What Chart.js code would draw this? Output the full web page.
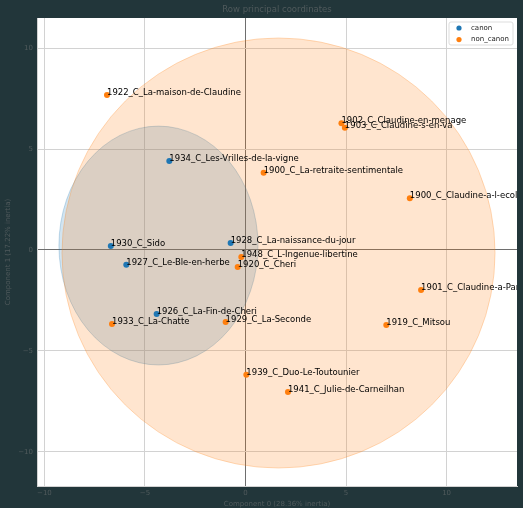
<!DOCTYPE html>
<html>
<head>
<meta charset="utf-8">
<script src="https://cdn.jsdelivr.net/npm/chart.js@4.4.1/dist/chart.umd.min.js"></script>
<style>
    html, body { margin: 0; padding: 0; background: #22363a; }
    #wrap { width: 523px; height: 508px; }
</style>
</head>
<body>
<div id="wrap"><canvas id="chart" width="523" height="508"></canvas></div>
<script>
// Row principal coordinates
const canonLabels = ['1934_C_Les-Vrilles-de-la-vigne', '1930_C_Sido', '1927_C_Le-Ble-en-herbe',
    '1928_C_La-naissance-du-jour', '1926_C_La-Fin-de-Cheri'];
const canonX = [-3.79, -6.70, -5.93, -0.74, -4.42];
const canonY = [4.41, 0.20, -0.73, 0.35, -3.17];

const nonCanonLabels = ['1922_C_La-maison-de-Claudine', '1902_C_Claudine-en-menage', '1903_C_Claudine-s-en-va',
    '1900_C_La-retraite-sentimentale', '1900_C_Claudine-a-l-ecole', '1948_C_L-Ingenue-libertine',
    '1920_C_Cheri', '1901_C_Claudine-a-Paris', '1933_C_La-Chatte', '1929_C_La-Seconde',
    '1919_C_Mitsou', '1939_C_Duo-Le-Toutounier', '1941_C_Julie-de-Carneilhan'];
const nonCanonX = [-6.89, 4.77, 4.94, 0.90, 8.17, -0.21, -0.39, 8.73, -6.64, -0.99, 7.00, 0.04, 2.11];
const nonCanonY = [7.68, 6.28, 6.06, 3.83, 2.56, -0.35, -0.84, -1.98, -3.67, -3.57, -3.72, -6.18, -7.04];

// group ellipses: canon, non_canon
const ellipseCx = [-4.33, 1.64];
const ellipseCy = [0.22, -0.15];
const ellipseRx = [4.95, 10.77];
const ellipseRy = [5.92, 10.66];

const xTicks = [-10, -5, 0, 5, 10];
const yTicks = [-10, -5, 0, 5, 10];

const titleText = 'Row principal coordinates';
const xTitle = 'Component 0 (28.36% inertia)';
const yTitle = 'Component 1 (17.22% inertia)';

const blue = [31, 119, 180];
const orange = [255, 127, 14];
const textColor = '#505a5c';
const labelFont = '8.5px "DejaVu Sans"';

function rgba(c, a) {
    return 'rgba(' + c[0] + ',' + c[1] + ',' + c[2] + ',' + a + ')';
}

function toPoints(xs, ys) {
    return xs.map((x, i) => ({ x: x, y: ys[i] }));
}

function fmtTick(v) {
    return v < 0 ? '\u2212' + Math.abs(v) : String(v);
}

const pcaPlugin = {
    id: 'pca',
    beforeDraw(chart) {
        const ctx = chart.ctx;
        const a = chart.chartArea;
        ctx.save();
        ctx.fillStyle = '#22363a';
        ctx.fillRect(0, 0, chart.width, chart.height);
        ctx.fillStyle = '#ffffff';
        ctx.fillRect(a.left, a.top, a.right - a.left, a.bottom - a.top);
        ctx.restore();
    },
    beforeDatasetsDraw(chart) {
        const ctx = chart.ctx;
        const a = chart.chartArea;
        const xs = chart.scales.x, ys = chart.scales.y;
        const colors = [blue, orange];
        ctx.save();
        ctx.beginPath();
        ctx.rect(a.left, a.top, a.right - a.left, a.bottom - a.top);
        ctx.clip();
        for (let i = 0; i < ellipseCx.length; i++) {
            const cx = xs.getPixelForValue(ellipseCx[i]);
            const cy = ys.getPixelForValue(ellipseCy[i]);
            const rx = Math.abs(xs.getPixelForValue(ellipseCx[i] + ellipseRx[i]) - cx);
            const ry = Math.abs(ys.getPixelForValue(ellipseCy[i] + ellipseRy[i]) - cy);
            ctx.beginPath();
            ctx.ellipse(cx, cy, rx, ry, 0, 0, Math.PI * 2);
            ctx.fillStyle = rgba(colors[i], 0.2);
            ctx.fill();
            ctx.strokeStyle = rgba(colors[i], 0.25);
            ctx.lineWidth = 1;
            ctx.stroke();
        }
        ctx.restore();
    },
    afterDatasetsDraw(chart) {
        const ctx = chart.ctx;
        const a = chart.chartArea;
        const xs = chart.scales.x, ys = chart.scales.y;
        ctx.save();
        ctx.beginPath();
        ctx.rect(a.left, a.top, a.right - a.left, a.bottom - a.top);
        ctx.clip();
        ctx.font = labelFont;
        ctx.fillStyle = '#000000';
        ctx.textAlign = 'left';
        ctx.textBaseline = 'alphabetic';
        const groups = [[canonLabels, canonX, canonY], [nonCanonLabels, nonCanonX, nonCanonY]];
        groups.forEach(g => {
            g[0].forEach((label, i) => {
                ctx.fillText(label, xs.getPixelForValue(g[1][i]), ys.getPixelForValue(g[2][i]));
            });
        });
        ctx.restore();
    },
    afterDraw(chart) {
        const ctx = chart.ctx;
        const a = chart.chartArea;
        ctx.save();
        // title
        ctx.font = '8.5px "DejaVu Sans"';
        ctx.fillStyle = textColor;
        ctx.textAlign = 'center';
        ctx.textBaseline = 'middle';
        ctx.fillText(titleText, (a.left + a.right) / 2, 10);

        // legend
        const bx = a.right - 68, by = a.top + 4, bw = 64, bh = 23;
        ctx.beginPath();
        ctx.roundRect(bx, by, bw, bh, 2);
        ctx.fillStyle = 'rgba(255,255,255,0.85)';
        ctx.fill();
        ctx.strokeStyle = '#dddddd';
        ctx.lineWidth = 1;
        ctx.stroke();
        ctx.font = '7px "DejaVu Sans"';
        ctx.textAlign = 'left';
        chart.data.datasets.forEach((ds, i) => {
            const yy = by + 6 + i * 11.6;
            ctx.beginPath();
            ctx.arc(bx + 10, yy, 2.6, 0, Math.PI * 2);
            ctx.fillStyle = ds.backgroundColor;
            ctx.fill();
            ctx.fillStyle = '#222222';
            ctx.fillText(ds.label, bx + 22, yy);
        });
        ctx.restore();
    }
};

function gridColor(context) {
    return context.tick && context.tick.value === 0 ? '#6e6e6e' : '#d2d2d2';
}

const ctx = document.getElementById('chart').getContext('2d');
new Chart(ctx, {
    type: 'scatter',
    data: {
        datasets: [
            {
                label: 'canon',
                data: toPoints(canonX, canonY),
                backgroundColor: rgba(blue, 1),
                borderWidth: 0,
                pointRadius: 3
            },
            {
                label: 'non_canon',
                data: toPoints(nonCanonX, nonCanonY),
                backgroundColor: rgba(orange, 1),
                borderWidth: 0,
                pointRadius: 3
            }
        ]
    },
    options: {
        responsive: false,
        animation: false,
        layout: {
            padding: { top: 18, right: 6, left: 0, bottom: 0 }
        },
        plugins: {
            legend: { display: false },
            tooltip: { enabled: false },
            title: { display: false }
        },
        scales: {
            x: {
                type: 'linear',
                min: -10.37,
                max: 13.5,
                afterBuildTicks: function(scale) {
                    scale.ticks = xTicks.map(v => ({ value: v }));
                },
                afterFit: function(scale) {
                    scale.height = 22;
                },
                ticks: {
                    color: textColor,
                    font: { family: 'DejaVu Sans', size: 7 },
                    padding: 3,
                    maxRotation: 0,
                    callback: function(value) {
                        return fmtTick(value);
                    }
                },
                grid: {
                    color: gridColor,
                    drawTicks: false
                },
                border: { color: '#d2d2d2' },
                title: {
                    display: true,
                    text: xTitle,
                    color: textColor,
                    font: { family: 'DejaVu Sans', size: 7 },
                    padding: { top: 0, bottom: 0 }
                }
            },
            y: {
                type: 'linear',
                min: -11.7,
                max: 11.5,
                afterBuildTicks: function(scale) {
                    scale.ticks = yTicks.map(v => ({ value: v }));
                },
                afterFit: function(scale) {
                    scale.width = 37;
                },
                ticks: {
                    color: textColor,
                    font: { family: 'DejaVu Sans', size: 7 },
                    padding: 4,
                    callback: function(value) {
                        return fmtTick(value);
                    }
                },
                grid: {
                    color: gridColor,
                    drawTicks: false
                },
                border: { color: '#d2d2d2' },
                title: {
                    display: true,
                    text: yTitle,
                    color: textColor,
                    font: { family: 'DejaVu Sans', size: 7 },
                    padding: { top: 4, bottom: 4 }
                }
            }
        }
    },
    plugins: [pcaPlugin]
});
</script>
</body>
</html>
